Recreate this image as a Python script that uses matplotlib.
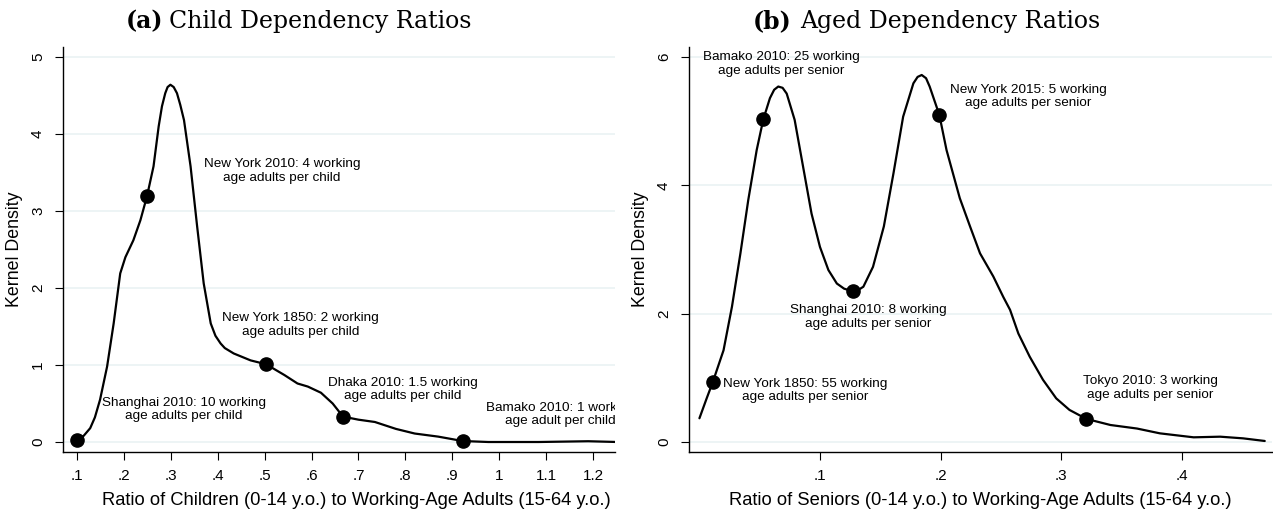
import matplotlib
matplotlib.use("Agg")
import matplotlib.pyplot as plt

plt.rcParams["font.family"] = ["Liberation Sans", "DejaVu Sans"]

# panel (a): child dependency ratio density
child_x = [0.100, 0.114, 0.128, 0.138, 0.149, 0.164, 0.178, 0.192, 0.203, 0.220,
           0.235, 0.249, 0.263, 0.274, 0.281, 0.288, 0.293, 0.299, 0.306, 0.313,
           0.320, 0.328, 0.342, 0.356, 0.370, 0.385, 0.395, 0.406, 0.415, 0.434,
           0.470, 0.503, 0.542, 0.570, 0.592, 0.620, 0.645, 0.667, 0.700, 0.735,
           0.780, 0.820, 0.870, 0.922, 0.977, 1.084, 1.190, 1.252]
child_y = [0.04, 0.08, 0.18, 0.32, 0.55, 0.98, 1.54, 2.19, 2.40, 2.62,
           2.88, 3.19, 3.58, 4.10, 4.36, 4.53, 4.61, 4.64, 4.61, 4.53,
           4.38, 4.18, 3.58, 2.80, 2.06, 1.54, 1.38, 1.28, 1.22, 1.15,
           1.06, 1.01, 0.87, 0.76, 0.72, 0.64, 0.50, 0.33, 0.29, 0.26,
           0.17, 0.11, 0.07, 0.013, 0.0, 0.0, 0.01, 0.0]
child_pts_x = [0.100, 0.249, 0.503, 0.667, 0.922]
child_pts_y = [0.03, 3.19, 1.01, 0.33, 0.013]
child_labels = ["Shanghai 2010: 10 working\nage adults per child",
                "New York 2010: 4 working\nage adults per child",
                "New York 1850: 2 working\nage adults per child",
                "Dhaka 2010: 1.5 working\nage adults per child",
                "Bamako 2010: 1 working\nage adult per child"]
child_lab_x = [0.327, 0.537, 0.577, 0.794, 1.13]
child_lab_y = [0.42, 3.52, 1.52, 0.68, 0.36]

# panel (b): aged dependency ratio density
aged_x = [0.000, 0.006, 0.011, 0.020, 0.027, 0.034, 0.0405, 0.0475, 0.053, 0.0585,
          0.062, 0.0654, 0.069, 0.0724, 0.079, 0.086, 0.093, 0.100, 0.107, 0.114,
          0.120, 0.127, 0.131, 0.136, 0.144, 0.153, 0.161, 0.169, 0.1775, 0.181,
          0.1844, 0.188, 0.191, 0.199, 0.205, 0.216, 0.2245, 0.2328, 0.2438, 0.2521,
          0.2577, 0.2646, 0.274, 0.285, 0.296, 0.307, 0.321, 0.341, 0.363, 0.382,
          0.410, 0.432, 0.451, 0.469]
aged_y = [0.37, 0.68, 0.93, 1.43, 2.11, 2.94, 3.77, 4.55, 5.03, 5.36,
          5.49, 5.54, 5.52, 5.43, 5.02, 4.29, 3.56, 3.04, 2.68, 2.47,
          2.39, 2.35, 2.36, 2.42, 2.73, 3.36, 4.19, 5.07, 5.59, 5.69,
          5.72, 5.67, 5.54, 5.10, 4.55, 3.80, 3.36, 2.94, 2.58, 2.26,
          2.06, 1.69, 1.33, 0.97, 0.68, 0.50, 0.36, 0.265, 0.21, 0.135,
          0.073, 0.083, 0.057, 0.016]
aged_pts_x = [0.011, 0.053, 0.127, 0.199, 0.321]
aged_pts_y = [0.93, 5.04, 2.35, 5.10, 0.36]
aged_labels = ["New York 1850: 55 working\nage adults per senior",
               "Bamako 2010: 25 working\nage adults per senior",
               "Shanghai 2010: 8 working\nage adults per senior",
               "New York 2015: 5 working\nage adults per senior",
               "Tokyo 2010: 3 working\nage adults per senior"]
aged_lab_x = [0.0875, 0.068, 0.140, 0.273, 0.374]
aged_lab_y = [0.80, 5.89, 1.95, 5.38, 0.84]

child_ticks = [0.1, 0.2, 0.3, 0.4, 0.5, 0.6, 0.7, 0.8, 0.9, 1.0, 1.1, 1.2]
child_ticklabels = [".1", ".2", ".3", ".4", ".5", ".6", ".7", ".8", ".9", "1", "1.1", "1.2"]
aged_ticks = [0.1, 0.2, 0.3, 0.4]
aged_ticklabels = [".1", ".2", ".3", ".4"]

grid_col = "#eaf2f3"

fig = plt.figure(figsize=(12.73, 5.15), dpi=100)
ax1 = fig.add_axes([0.0495, 0.1223, 0.4336, 0.7864])
ax2 = fig.add_axes([0.5412, 0.1223, 0.4580, 0.7864])


def style(ax, yticks):
    for s in ["top", "right"]:
        ax.spines[s].set_visible(False)
    for s in ["left", "bottom"]:
        ax.spines[s].set_linewidth(1.0)
    ax.set_yticks(yticks)
    ax.set_yticklabels([str(t) for t in yticks], rotation=90, va="center")
    ax.tick_params(direction="out", length=6, width=0.8, labelsize=11)
    ax.tick_params(axis="y", pad=7)
    ax.tick_params(axis="x", pad=6)
    ax.yaxis.grid(True, color=grid_col, linewidth=1.2)
    ax.set_axisbelow(True)
    ax.set_ylabel("Kernel Density", fontsize=12.8, labelpad=6)


# (a)
ax1.plot(child_x, child_y, color="black", lw=1.6, solid_capstyle="round")
ax1.plot(child_pts_x, child_pts_y, "o", color="black", ms=9.5, clip_on=False, zorder=3)
for t, x, y in zip(child_labels, child_lab_x, child_lab_y):
    ax1.text(x, y, t, ha="center", va="center", fontsize=9.7, linespacing=1.15, clip_on=True)
ax1.set_xlim(0.07, 1.247)
ax1.set_ylim(-0.13, 5.13)
style(ax1, [0, 1, 2, 3, 4, 5])
ax1.set_xticks(child_ticks)
ax1.set_xticklabels(child_ticklabels)
ax1.set_xlabel("Ratio of Children (0-14 y.o.) to Working-Age Adults (15-64 y.o.)",
               fontsize=13.2, labelpad=7)
ax1.xaxis.label.set_x(0.531)

# (b)
ax2.plot(aged_x, aged_y, color="black", lw=1.6, solid_capstyle="round")
ax2.plot(aged_pts_x, aged_pts_y, "o", color="black", ms=9.5, zorder=3)
for t, x, y in zip(aged_labels, aged_lab_x, aged_lab_y):
    ax2.text(x, y, t, ha="center", va="center", fontsize=9.7, linespacing=1.15)
ax2.set_xlim(-0.0087, 0.475)
ax2.set_ylim(-0.156, 6.156)
style(ax2, [0, 2, 4, 6])
ax2.set_xticks(aged_ticks)
ax2.set_xticklabels(aged_ticklabels)
ax2.set_xlabel("Ratio of Seniors (0-14 y.o.) to Working-Age Adults (15-64 y.o.)",
               fontsize=13.2, labelpad=7)

# subfigure captions
serif = ["DejaVu Serif"]
fig.text(0.099, 0.959, "(a)", family=serif, fontsize=17, fontweight="bold", va="center")
fig.text(0.1328, 0.959, "Child Dependency Ratios", family=serif, fontsize=17, va="center")
fig.text(0.5915, 0.959, "(b)", family=serif, fontsize=17, fontweight="bold", va="center")
fig.text(0.6284, 0.959, "Aged Dependency Ratios", family=serif, fontsize=17, va="center")

fig.savefig("out.png", dpi=100)
